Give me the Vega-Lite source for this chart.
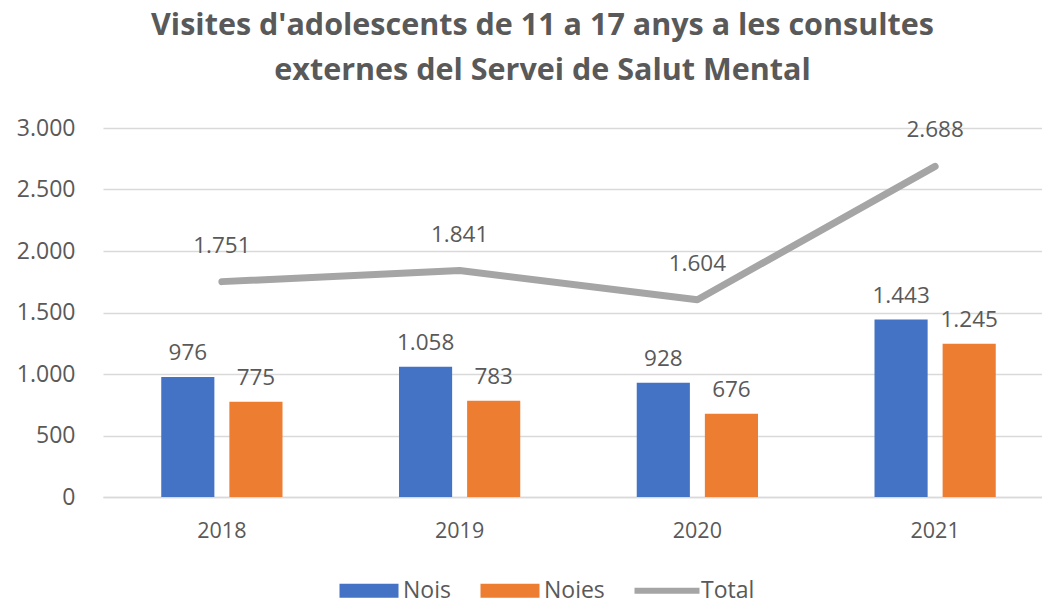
{
  "$schema": "https://vega.github.io/schema/vega-lite/v6.json",
  "autosize": "none",
  "width": 939,
  "height": 369,
  "padding": {"left": 103, "top": 128, "right": 0, "bottom": 107},
  "background": "white",
  "title": {
    "text": ["Visites d'adolescents de 11 a 17 anys a les consultes", "externes del Servei de Salut Mental"],
    "font": "Open Sans",
    "fontSize": 30.5,
    "fontWeight": "bold",
    "color": "#595959",
    "anchor": "middle",
    "frame": "group",
    "dx": -30,
    "offset": 31,
    "lineHeight": 45
  },
  "data": {
    "values": [
      {"year": "2018", "serie": "Nois", "value": 976},
      {"year": "2018", "serie": "Noies", "value": 775},
      {"year": "2018", "serie": "Total", "value": 1751},
      {"year": "2019", "serie": "Nois", "value": 1058},
      {"year": "2019", "serie": "Noies", "value": 783},
      {"year": "2019", "serie": "Total", "value": 1841},
      {"year": "2020", "serie": "Nois", "value": 928},
      {"year": "2020", "serie": "Noies", "value": 676},
      {"year": "2020", "serie": "Total", "value": 1604},
      {"year": "2021", "serie": "Nois", "value": 1443},
      {"year": "2021", "serie": "Noies", "value": 1245},
      {"year": "2021", "serie": "Total", "value": 2688}
    ]
  },
  "encoding": {
    "x": {
      "field": "year",
      "type": "nominal",
      "scale": {"range": [0, 951], "paddingInner": 0.49, "paddingOuter": 0.245},
      "axis": {
        "title": null,
        "labelAngle": 0,
        "labelFont": "Open Sans",
        "labelFontSize": 21.5,
        "labelColor": "#595959",
        "labelPadding": 23,
        "ticks": false,
        "domainColor": "#D9D9D9",
        "domainWidth": 1.5
      }
    },
    "y": {
      "field": "value",
      "type": "quantitative",
      "scale": {"domain": [0, 3000]},
      "axis": {
        "title": null,
        "values": [0, 500, 1000, 1500, 2000, 2500, 3000],
        "format": ",d",
        "labelFont": "Open Sans",
        "labelFontSize": 23,
        "labelColor": "#595959",
        "labelPadding": 28,
        "ticks": false,
        "domain": false,
        "gridColor": "#D9D9D9",
        "gridWidth": 1.5
      }
    },
    "color": {
      "field": "serie",
      "type": "nominal",
      "scale": {"domain": ["Nois", "Noies", "Total"], "range": ["#4472C4", "#ED7D31", "#A5A5A5"]},
      "legend": {
        "title": null,
        "orient": "none",
        "direction": "horizontal",
        "legendX": 254.5,
        "legendY": 451,
        "labelFont": "Open Sans",
        "labelFontSize": 23,
        "labelColor": "#595959",
        "symbolSize": 400,
        "symbolType": "M-2.95,-0.7H2.95V0.7H-2.95Z",
        "symbolStrokeWidth": 0,
        "labelOffset": 22.5,
        "columnPadding": 29,
        "encode": {
          "symbols": {
            "update": {
              "shape": {"signal": "datum.value === 'Total' ? 'M-3.25,-0.3H3.25V0.3H-3.25Z' : 'M-2.95,-0.7H2.95V0.7H-2.95Z'"},
              "fill": {"signal": "scale('color', datum.value)"},
              "stroke": {"value": "transparent"},
              "opacity": {"value": 1}
            }
          }
        }
      }
    }
  },
  "layer": [
    {
      "transform": [{"filter": "datum.serie !== 'Total'"}],
      "mark": {"type": "bar"},
      "encoding": {
        "xOffset": {"field": "serie", "type": "nominal", "sort": ["Nois", "Noies"], "scale": {"paddingInner": 0.22, "paddingOuter": 0}}
      }
    },
    {
      "transform": [{"filter": "datum.serie !== 'Total'"}],
      "mark": {"type": "text", "baseline": "alphabetic", "dy": -17, "font": "Open Sans", "fontSize": 22.5, "color": "#595959"},
      "encoding": {
        "xOffset": {"field": "serie", "type": "nominal", "sort": ["Nois", "Noies"], "scale": {"paddingInner": 0.22, "paddingOuter": 0}},
        "text": {"field": "value", "type": "quantitative", "format": ",d"},
        "color": {"value": "#595959"}
      }
    },
    {
      "transform": [{"filter": "datum.serie === 'Total'"}],
      "mark": {"type": "line", "strokeWidth": 7, "strokeCap": "round", "strokeJoin": "round"},
      "encoding": {}
    },
    {
      "transform": [{"filter": "datum.serie === 'Total'"}],
      "mark": {"type": "text", "baseline": "alphabetic", "dy": -29, "font": "Open Sans", "fontSize": 22.5, "color": "#595959"},
      "encoding": {
        "text": {"field": "value", "type": "quantitative", "format": ",d"},
        "color": {"value": "#595959"}
      }
    }
  ],
  "config": {
    "view": {"stroke": null},
    "locale": {"number": {"decimal": ",", "thousands": ".", "grouping": [3], "currency": ["", " €"]}}
  }
}
